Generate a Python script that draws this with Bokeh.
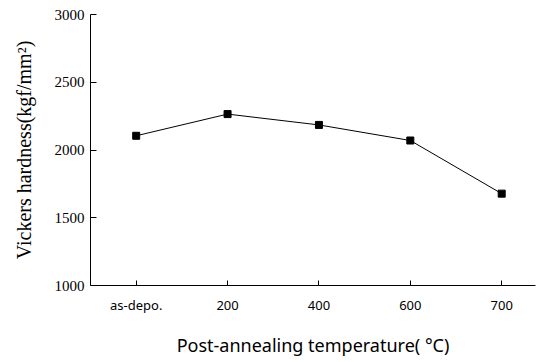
from bokeh.plotting import figure
from bokeh.models import FixedTicker, Range1d
from bokeh.embed import file_html
from bokeh.resources import INLINE

categories = ["as-depo.", "200", "400", "600", "700"]
hardness = [2105, 2265, 2185, 2070, 1678]
y_ticks = [1000, 1500, 2000, 2500, 3000]

xs = list(range(len(categories)))

p = figure(width=544, height=362, output_backend="svg", toolbar_location=None,
           x_range=Range1d(-0.5, 4.37), y_range=Range1d(1000, 3000),
           min_border_left=90, min_border_right=9, min_border_top=14, min_border_bottom=77)
p.outline_line_color = None
p.xgrid.visible = False
p.ygrid.visible = False
p.background_fill_color = "white"

p.line(xs, hardness, line_color="black", line_width=1)
p.scatter(xs, hardness, marker="square", size=7, fill_color="black", line_color="black")

p.xaxis.ticker = FixedTicker(ticks=xs)
p.xaxis.major_label_overrides = {i: c for i, c in enumerate(categories)}
p.xaxis.minor_tick_line_color = None
p.xaxis.major_tick_in = 5
p.xaxis.major_tick_out = 0
p.xaxis.major_label_standoff = 10
p.xaxis.major_label_text_font = "Noto Sans"
p.xaxis.major_label_text_font_size = "13px"
p.xaxis.major_label_text_color = "black"
p.xaxis.axis_label = "Post-annealing temperature( °C)"
p.xaxis.axis_label_text_font = "Noto Sans"
p.xaxis.axis_label_text_font_style = "normal"
p.xaxis.axis_label_text_font_size = "18px"
p.xaxis.axis_label_text_color = "black"
p.xaxis.axis_label_standoff = 16
p.xaxis.axis_line_color = "black"
p.xaxis.major_tick_line_color = "black"

p.yaxis.ticker = FixedTicker(ticks=y_ticks)
p.yaxis.minor_tick_line_color = None
p.yaxis.major_tick_in = 6
p.yaxis.major_tick_out = 0
p.yaxis.major_label_standoff = 6
p.yaxis.major_label_text_font = "Liberation Serif"
p.yaxis.major_label_text_font_size = "15px"
p.yaxis.major_label_text_color = "black"
p.yaxis.axis_label = "Vickers hardness(kgf/mm²)"
p.yaxis.axis_label_text_font = "Liberation Serif"
p.yaxis.axis_label_text_font_style = "normal"
p.yaxis.axis_label_text_font_size = "20px"
p.yaxis.axis_label_text_color = "black"
p.yaxis.axis_label_standoff = 17
p.yaxis.axis_line_color = "black"
p.yaxis.major_tick_line_color = "black"

open("out.html", "w").write(file_html(p, INLINE))
